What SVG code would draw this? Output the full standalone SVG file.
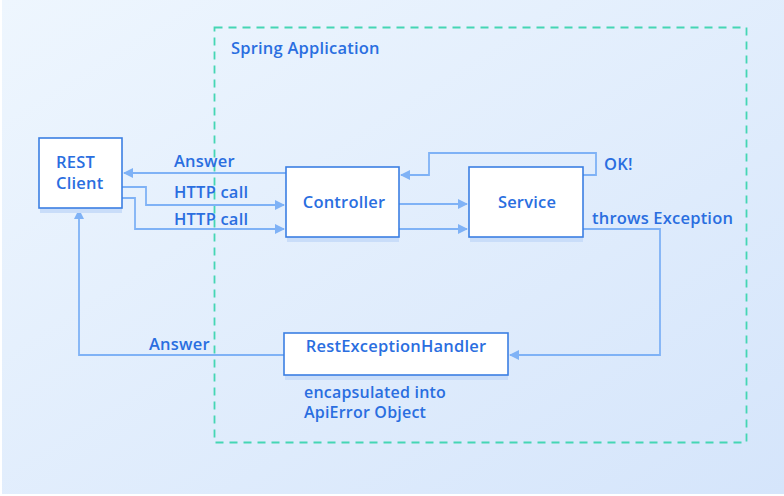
<svg xmlns="http://www.w3.org/2000/svg" width="784" height="496" viewBox="0 0 784 496">
<defs>
<linearGradient id="bg" x1="0" y1="0" x2="1" y2="1">
<stop offset="0" stop-color="#eef6fe"/>
<stop offset="1" stop-color="#d5e5fb"/>
</linearGradient>
<marker id="ah" viewBox="0 0 10 10" refX="9" refY="5" markerWidth="10" markerHeight="10" markerUnits="userSpaceOnUse" orient="auto">
<path d="M0,0 L10,5 L0,10 z" fill="#7fb2f6"/>
</marker>
<style>
.box{fill:#fff;stroke:#3b7fe3;stroke-width:1.6}
.sh{fill:#c9ddf9}
.t{font-family:"Open Sans","Liberation Sans",sans-serif;font-weight:600;font-size:16.5px;letter-spacing:0.2px;fill:#2a6ee0}
.s{font-size:16px}
.c{fill:none;stroke:#7fb2f6;stroke-width:1.8;marker-end:url(#ah)}
</style>
</defs>
<rect x="0" y="0" width="784" height="496" fill="#fff"/>
<rect x="2" y="0" width="782" height="494" fill="url(#bg)"/>
<g id="spring-app">
<rect x="214.5" y="27.5" width="532" height="415" fill="none" stroke="#45d6b4" stroke-width="1.8" stroke-dasharray="8,6"/>
<text class="t" x="231" y="54">Spring Application</text>
</g>
<g id="connectors">
<path class="c" d="M286,173 H124"/>
<path class="c" d="M122,187 H146 V205 H284"/>
<path class="c" d="M122,198 H135 V229 H284"/>
<path class="c" d="M399,204 H467"/>
<path class="c" d="M399,229 H467"/>
<path class="c" d="M583,175 H596 V153 H429 V175 H401"/>
<path class="c" d="M583,229 H660 V355 H510"/>
<path class="c" d="M284,355 H79 V210"/>
<text class="t" x="174" y="167">Answer</text>
<text class="t" x="174" y="198">HTTP call</text>
<text class="t" x="174" y="225">HTTP call</text>
<text class="t" x="604" y="170">OK!</text>
<text class="t" x="592" y="224">throws Exception</text>
<text class="t" x="149" y="350">Answer</text>
</g>
<g id="rest-client">
<rect class="sh" x="40" y="208" width="82" height="5"/>
<rect class="box" x="39" y="138" width="83" height="70"/>
<text class="t" x="56" y="168">REST</text>
<text class="t" x="56" y="189">Client</text>
</g>
<g id="controller">
<rect class="sh" x="287" y="237" width="112" height="5"/>
<rect class="box" x="286" y="167" width="113" height="70"/>
<text class="t" x="344" y="208" text-anchor="middle">Controller</text>
</g>
<g id="service">
<rect class="sh" x="470" y="237" width="113" height="5"/>
<rect class="box" x="469" y="167" width="114" height="70"/>
<text class="t" x="527" y="208" text-anchor="middle">Service</text>
</g>
<g id="rest-exception-handler">
<rect class="sh" x="285" y="375" width="223" height="5"/>
<rect class="box" x="284" y="333" width="224" height="42"/>
<text class="t" x="396" y="352" text-anchor="middle">RestExceptionHandler</text>
<text class="t s" x="304" y="398">encapsulated into</text>
<text class="t s" x="304" y="418">ApiError Object</text>
</g>
</svg>
